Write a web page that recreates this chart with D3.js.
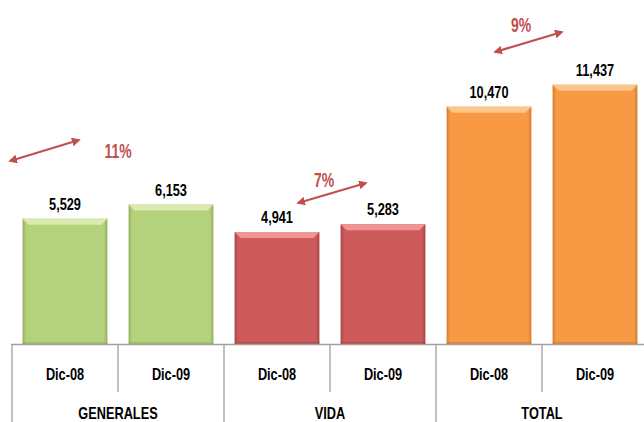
<!DOCTYPE html>
<html>
<head>
<meta charset="utf-8">
<script src="https://cdn.jsdelivr.net/npm/d3@7"></script>
<style>
  body { margin: 0; background: #fff; }
  svg text { font-family: "Liberation Sans", Arial, sans-serif; font-weight: bold; }
</style>
</head>
<body>
<div id="chart"></div>
<script>
// data
const groups = ["GENERALES", "VIDA", "TOTAL"];
const periods = ["Dic-08", "Dic-09"];
const values = [5529, 6153, 4941, 5283, 10470, 11437];
const growth = ["11%", "7%", "9%"];

const colors = ["#b4d17b", "#cd5b5b", "#f89a44"];
const light = ["#dbeab0", "#f09494", "#fcc58b"];
const dark = ["#93ad5c", "#a84242", "#d27a2a"];

// arrow layout per group: offsets from first bar centre (px)
const arrows = [
  { x1: -55, y1: 161, x2: 14, y2: 140, lx: 53, ly: 158 },
  { x1: 21, y1: 203, x2: 89, y2: 183, lx: 47, ly: 187 },
  { x1: 6, y1: 52, x2: 73, y2: 32, lx: 32, ly: 32 }
];

// narrow text helper (condensed look)
function narrowText(sel, px, py, size, sx) {
  return sel.attr("transform", (d, i) => `translate(${px(d, i)},${py(d, i)}) scale(${sx},1)`)
    .attr("text-anchor", "middle").attr("font-size", size);
}

document.addEventListener("DOMContentLoaded", function() {
  const width = 644, height = 422;
  const base = 344;

  const svg = d3.select("#chart").append("svg")
    .attr("width", width).attr("height", height);

  const rows = [];
  groups.forEach((g, gi) => periods.forEach((p, pi) => {
    rows.push({ key: g + "|" + p, group: g, gi: gi, period: p, value: values[gi * periods.length + pi] });
  }));

  const x = d3.scaleBand().domain(rows.map(d => d.key)).range([12, 648]).paddingInner(0.2).paddingOuter(0.1);
  const y = d3.scaleLinear().domain([0, 15000]).range([base, 4]);

  const defs = svg.append("defs");
  colors.forEach((c, i) => {
    const gr = defs.append("linearGradient").attr("id", "side" + i).attr("x1", 0).attr("x2", 1).attr("y1", 0).attr("y2", 0);
    gr.append("stop").attr("offset", "0%").attr("stop-color", dark[i]);
    gr.append("stop").attr("offset", "4%").attr("stop-color", c);
    gr.append("stop").attr("offset", "96%").attr("stop-color", c);
    gr.append("stop").attr("offset", "100%").attr("stop-color", dark[i]);
    const mk = defs.append("marker").attr("id", "arrow" + i).attr("viewBox", "0 0 10 10")
      .attr("refX", 8).attr("refY", 5).attr("markerWidth", 4).attr("markerHeight", 4)
      .attr("orient", "auto-start-reverse");
    mk.append("path").attr("d", "M0,0 L10,5 L0,10 z").attr("fill", "#c0504d");
  });

  const bars = svg.selectAll("g.bar").data(rows).enter().append("g").attr("class", "bar");
  const bw = x.bandwidth(), bev = 6;

  bars.append("rect")
    .attr("x", d => x(d.key)).attr("y", d => y(d.value))
    .attr("width", bw).attr("height", d => base - y(d.value))
    .attr("fill", d => "url(#side" + d.gi + ")");

  // top bevel
  bars.append("path")
    .attr("d", d => {
      const x0 = x(d.key), y0 = y(d.value);
      return `M${x0},${y0} L${x0 + bw},${y0} L${x0 + bw - bev},${y0 + bev} L${x0 + bev},${y0 + bev} Z`;
    })
    .attr("fill", d => light[d.gi]);

  // bottom shade
  bars.append("rect")
    .attr("x", d => x(d.key)).attr("y", base - 2)
    .attr("width", bw).attr("height", 2)
    .attr("fill", d => dark[d.gi]).attr("opacity", 0.6);

  narrowText(bars.append("text"), d => x(d.key) + bw / 2, d => y(d.value) - 9, 17, 0.75)
    .attr("fill", "#000")
    .text(d => d3.format(",")(d.value));

  // axis
  const axisG = svg.append("g").attr("stroke", "#a0a0a0").attr("stroke-width", 1.3);
  axisG.append("line").attr("x1", 11).attr("x2", width).attr("y1", base + 0.5).attr("y2", base + 0.5);
  const step = x.step();
  rows.forEach((d, i) => {
    const bx = x(d.key) - (x.paddingInner() * step) / 2;
    const isGroupEdge = i % periods.length === 0;
    axisG.append("line").attr("x1", bx).attr("x2", bx).attr("y1", base).attr("y2", isGroupEdge ? height : 392);
  });

  narrowText(svg.selectAll("text.per").data(rows).enter().append("text").attr("class", "per"),
      d => x(d.key) + bw / 2, () => 380, 17, 0.75)
    .attr("fill", "#000")
    .text(d => d.period);

  narrowText(svg.selectAll("text.grp").data(groups).enter().append("text").attr("class", "grp"),
      g => (x(g + "|" + periods[0]) + x(g + "|" + periods[periods.length - 1]) + bw) / 2, () => 419, 17, 0.75)
    .attr("fill", "#000")
    .text(g => g);

  // growth arrows
  groups.forEach((g, i) => {
    const cx = x(g + "|" + periods[0]) + bw / 2;
    const a = arrows[i];
    svg.append("line")
      .attr("x1", cx + a.x1).attr("y1", a.y1).attr("x2", cx + a.x2).attr("y2", a.y2)
      .attr("stroke", "#c0504d").attr("stroke-width", 2.2)
      .attr("marker-start", "url(#arrow" + i + ")").attr("marker-end", "url(#arrow" + i + ")");
    narrowText(svg.append("text").datum(g), () => cx + a.lx, () => a.ly, 20, 0.7)
      .attr("fill", "#c0504d")
      .text(growth[i]);
  });
});
</script>
</body>
</html>
